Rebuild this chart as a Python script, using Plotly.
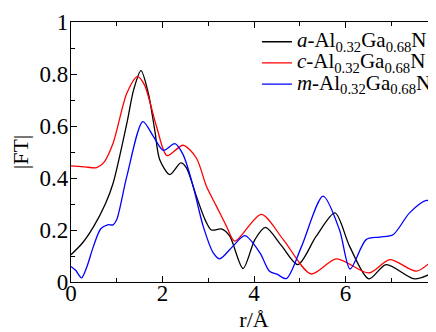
import plotly.graph_objects as go

# a-Al0.32Ga0.68N (black)
a_r = [0, 0.25, 0.5, 0.75, 0.92, 1.22, 1.37, 1.53, 1.69, 1.83, 1.94, 2.16, 2.4, 2.52, 2.74, 2.93,
       3.07, 3.29, 3.47, 3.76, 4.02, 4.25, 4.6, 4.96, 5.36, 5.77, 6.09, 6.51, 6.89, 7.51, 7.97]
a_ft = [0.105, 0.15, 0.215, 0.30, 0.38, 0.61, 0.74, 0.813, 0.726, 0.585, 0.47, 0.413, 0.458, 0.44, 0.33, 0.24,
        0.2, 0.204, 0.176, 0.052, 0.163, 0.21, 0.14, 0.067, 0.176, 0.266, 0.137, 0.012, 0.067, 0.012, 0.041]

# c-Al0.32Ga0.68N (red)
c_r = [0, 0.3, 0.56, 0.71, 0.92, 1.22, 1.45, 1.6, 1.87, 2.1, 2.45, 2.74, 2.96, 3.18, 3.4, 3.58,
       4.16, 4.64, 5.25, 5.8, 6.51, 6.97, 7.55, 7.97]
c_ft = [0.447, 0.443, 0.44, 0.458, 0.534, 0.726, 0.79, 0.76, 0.598, 0.486, 0.526, 0.477, 0.368, 0.291, 0.214, 0.157,
        0.26, 0.163, 0.031, 0.089, 0.035, 0.086, 0.042, 0.095]

# m-Al0.32Ga0.68N (blue)
m_r = [0, 0.1, 0.23, 0.35, 0.49, 0.65, 0.8, 0.92, 1.0, 1.22, 1.57, 1.8, 2.02, 2.27, 2.45, 2.67,
       2.89, 3.11, 3.25, 3.54, 3.8, 4.13, 4.34, 4.5, 4.71, 5.04, 5.51, 5.87, 6.1, 6.45, 6.75, 7.04,
       7.4, 7.77, 8.0]
m_ft = [0.06, 0.045, 0.016, 0.06, 0.137, 0.205, 0.22, 0.22, 0.24, 0.406, 0.617, 0.56, 0.506, 0.532, 0.49, 0.368,
        0.214, 0.112, 0.089, 0.138, 0.178, 0.112, 0.041, 0.03, 0.013, 0.137, 0.33, 0.2, 0.05, 0.163, 0.173, 0.182,
        0.266, 0.314, 0.295]

names = ['<span style="font-size:21px"><i>a</i>-Al<sub>0.32</sub>Ga<sub>0.68</sub>N</span>',
         '<span style="font-size:21px"><i>c</i>-Al<sub>0.32</sub>Ga<sub>0.68</sub>N</span>',
         '<span style="font-size:21px"><i>m</i>-Al<sub>0.32</sub>Ga<sub>0.68</sub>N</span>']

x_ticks = [0, 2, 4, 6, 8]
y_ticks = [0, 0.2, 0.4, 0.6, 0.8, 1]
y_labels = ["0", "0.2", "0.4", "0.6", "0.8", "1"]

FONT = "Liberation Serif, Times New Roman, serif"

fig = go.Figure()
for xs, ys, nm, col in [(a_r, a_ft, names[0], "black"),
                        (c_r, c_ft, names[1], "red"),
                        (m_r, m_ft, names[2], "blue")]:
    fig.add_trace(go.Scatter(x=xs, y=ys, mode="lines", name=nm,
                             line=dict(color=col, width=1.3, shape="spline", smoothing=0.8)))

axis_common = dict(showline=True, linecolor="black", linewidth=1.2, mirror="allticks",
                   ticks="inside", ticklen=6, tickwidth=1, tickcolor="black",
                   showgrid=False, zeroline=False, automargin=False,
                   tickfont=dict(family=FONT, size=23, color="black"))

fig.update_xaxes(range=[0, 8], tickvals=x_ticks, ticklabelstandoff=-10,
                 minor=dict(dtick=1, ticks="inside", ticklen=4, tickcolor="black", showgrid=False),
                 title=dict(text="r/Å", font=dict(family=FONT, size=22, color="black"), standoff=6),
                 **axis_common)
fig.update_yaxes(range=[0, 1], tickvals=y_ticks, ticktext=y_labels, ticklabelstandoff=-3,
                 minor=dict(dtick=0.1, ticks="inside", ticklen=4, tickcolor="black", showgrid=False),
                 title=dict(text="|FT|", font=dict(family=FONT, size=22, color="black"), standoff=21),
                 **axis_common)

fig.update_layout(
    width=436, height=332,
    margin=dict(l=63, r=7, t=14, b=57.5),
    paper_bgcolor="white", plot_bgcolor="white",
    font=dict(family=FONT, color="black"),
    legend=dict(x=0.508, y=0.984, xanchor="left", yanchor="top",
                bgcolor="rgba(0,0,0,0)", font=dict(family=FONT, size=14, color="black"),
                tracegroupgap=0, itemwidth=30),
    showlegend=True,
)

fig.write_html("out.html")
